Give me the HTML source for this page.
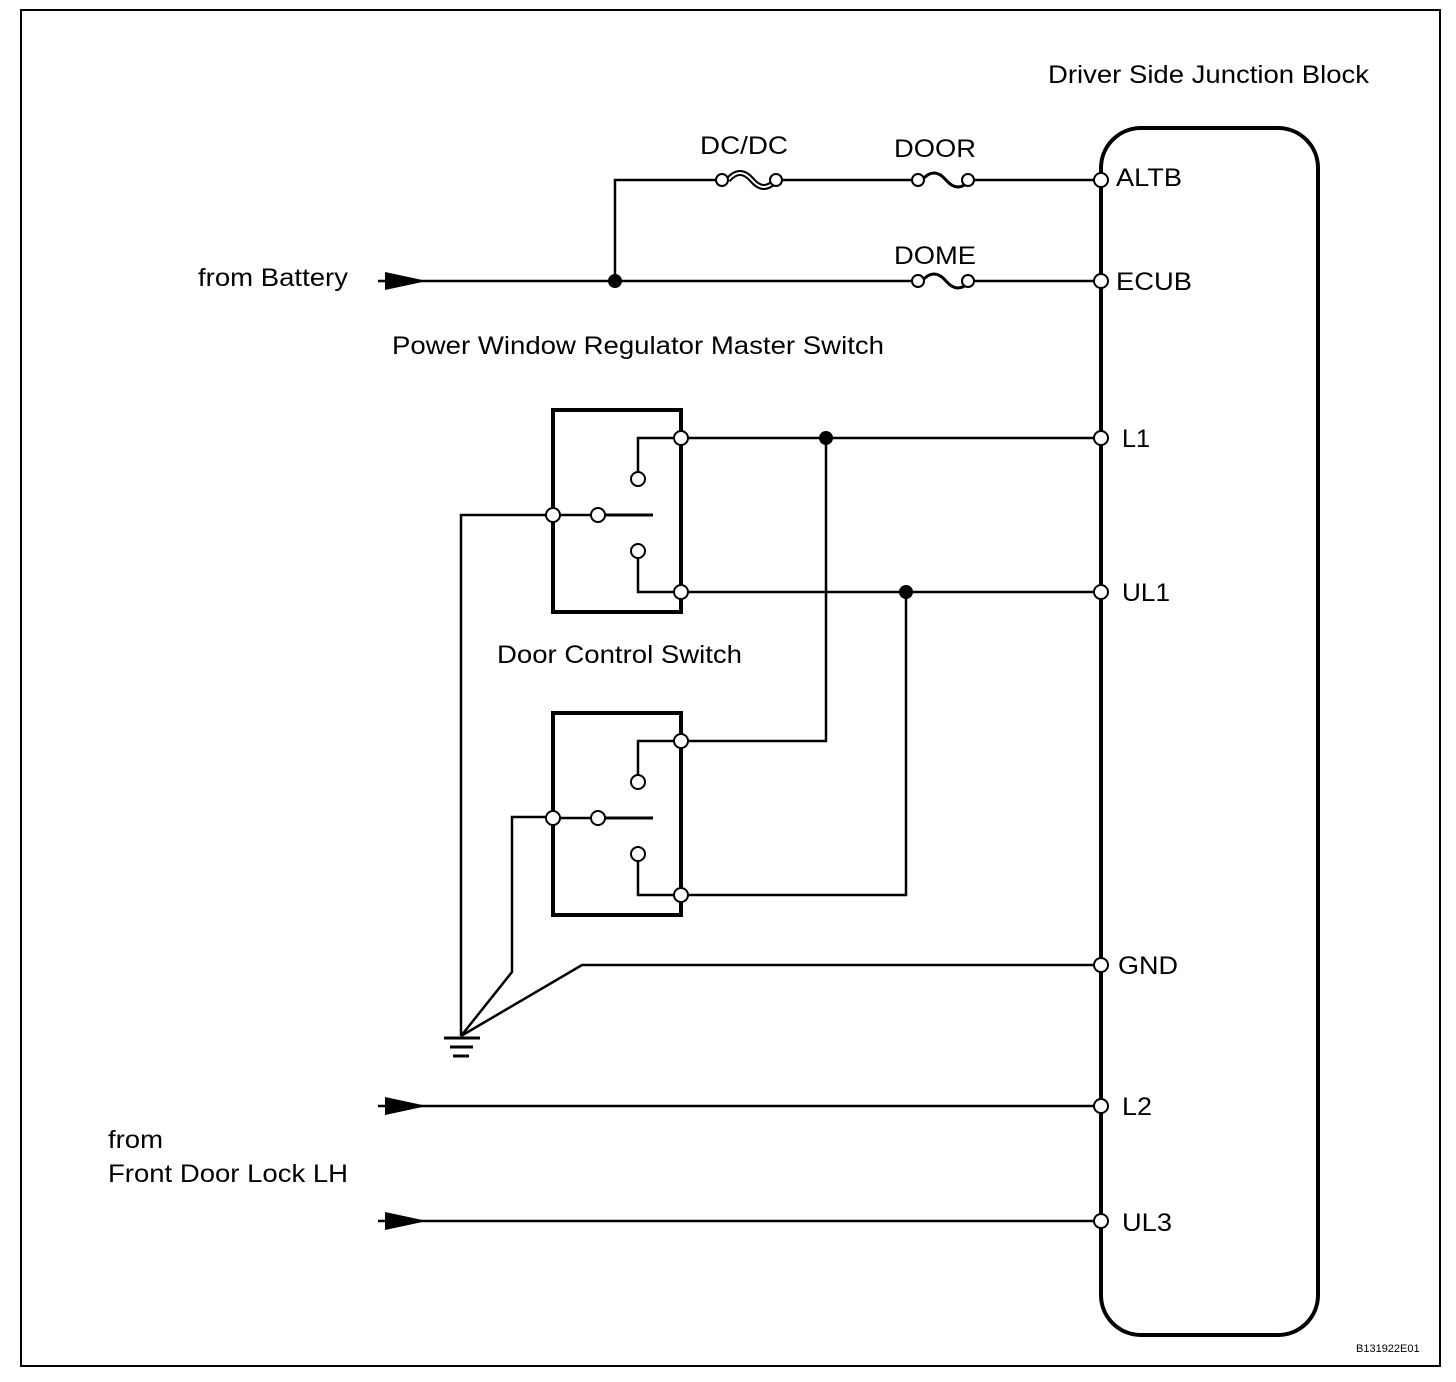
<!DOCTYPE html>
<html><head><style>body{margin:0;background:#fff}svg{display:block}text{font-family:"Liberation Sans",sans-serif;font-size:25px;fill:#000}</style></head><body>
<svg width="1456" height="1382" viewBox="0 0 1456 1382" xmlns="http://www.w3.org/2000/svg">
<rect x="21" y="10" width="1419" height="1356" fill="none" stroke="#000" stroke-width="2"/>
<rect x="1101" y="128" width="217" height="1207" rx="40" fill="none" stroke="#000" stroke-width="4"/>
<g stroke="#000" stroke-width="2.5" fill="none">
<polyline points="615,281 615,180 722,180"/>
<line x1="776" y1="180" x2="916" y2="180"/>
<line x1="970" y1="180" x2="1101" y2="180"/>
<line x1="378" y1="281" x2="916" y2="281"/>
<line x1="970" y1="281" x2="1101" y2="281"/>
<path d="M728,180 q12,-14 24,0 t24,0" stroke-width="6"/>
<path d="M728,180 q12,-14 24,0 t24,0" stroke="#fff" stroke-width="2"/>
<path d="M922,180 q12,-14 24,0 t24,0" stroke-width="3"/>
<path d="M922,281 q12,-14 24,0 t24,0" stroke-width="3"/>
<line x1="681" y1="438" x2="1101" y2="438"/>
<line x1="681" y1="592" x2="1101" y2="592"/>
<polyline points="826,438 826,741 681,741"/>
<polyline points="906,592 906,895 681,895"/>
<polyline points="1101,965 582,965 461,1036"/>
<polyline points="553,515 461,515 461,1036"/>
<polyline points="553,817 512,817 512,972 461,1036"/>
<line x1="378" y1="1106" x2="1101" y2="1106"/>
<line x1="378" y1="1221" x2="1101" y2="1221"/>
</g>
<g stroke="#000" stroke-width="3" fill="none">
<line x1="444" y1="1038" x2="480" y2="1038"/>
<line x1="450" y1="1047" x2="473" y2="1047"/>
<line x1="453" y1="1056" x2="469" y2="1056"/>
</g>
<g id="sw">
<rect x="553" y="410" width="128" height="202" fill="none" stroke="#000" stroke-width="4"/>
<g stroke="#000" stroke-width="2.5" fill="none">
<polyline points="681,438 638,438 638,479"/>
<polyline points="638,551 638,592 681,592"/>
<line x1="553" y1="515" x2="598" y2="515"/>
<line x1="598" y1="515" x2="653" y2="515" stroke-width="3"/>
</g>
<g fill="#fff" stroke="#000" stroke-width="2">
<circle cx="681" cy="438" r="7"/><circle cx="681" cy="592" r="7"/>
<circle cx="553" cy="515" r="7"/><circle cx="598" cy="515" r="7"/>
<circle cx="638" cy="479" r="7"/><circle cx="638" cy="551" r="7"/>
</g>
</g>
<use href="#sw" transform="translate(0,303)"/>
<g fill="#fff" stroke="#000" stroke-width="2">
<circle cx="1101" cy="180" r="7"/><circle cx="1101" cy="281" r="7"/><circle cx="1101" cy="438" r="7"/><circle cx="1101" cy="592" r="7"/><circle cx="1101" cy="965" r="7"/><circle cx="1101" cy="1106" r="7"/><circle cx="1101" cy="1221" r="7"/>
<circle cx="722" cy="180" r="6"/><circle cx="776" cy="180" r="6"/>
<circle cx="918" cy="180" r="6"/><circle cx="968" cy="180" r="6"/>
<circle cx="918" cy="281" r="6"/><circle cx="968" cy="281" r="6"/>
</g>
<g fill="#000"><circle cx="615" cy="281" r="7"/><circle cx="826" cy="438" r="7"/><circle cx="906" cy="592" r="7"/>
<polygon points="385,272 427,281 385,290"/><polygon points="385,1097 427,1106 385,1115"/><polygon points="385,1212 427,1221 385,1230"/></g>
<g lengthAdjust="spacingAndGlyphs">
<text x="1048" y="83" textLength="321" lengthAdjust="spacingAndGlyphs">Driver Side Junction Block</text>
<text x="700" y="154" textLength="88" lengthAdjust="spacingAndGlyphs">DC/DC</text>
<text x="894" y="157" textLength="82" lengthAdjust="spacingAndGlyphs">DOOR</text>
<text x="894" y="264" textLength="82" lengthAdjust="spacingAndGlyphs">DOME</text>
<text x="1116" y="186" textLength="66" lengthAdjust="spacingAndGlyphs">ALTB</text>
<text x="1116" y="290" textLength="76" lengthAdjust="spacingAndGlyphs">ECUB</text>
<text x="1122" y="447" textLength="28" lengthAdjust="spacingAndGlyphs">L1</text>
<text x="1122" y="601" textLength="48" lengthAdjust="spacingAndGlyphs">UL1</text>
<text x="1118" y="974" textLength="60" lengthAdjust="spacingAndGlyphs">GND</text>
<text x="1122" y="1115" textLength="30" lengthAdjust="spacingAndGlyphs">L2</text>
<text x="1122" y="1231" textLength="50" lengthAdjust="spacingAndGlyphs">UL3</text>
<text x="198" y="286" textLength="150" lengthAdjust="spacingAndGlyphs">from Battery</text>
<text x="392" y="354" textLength="492" lengthAdjust="spacingAndGlyphs">Power Window Regulator Master Switch</text>
<text x="497" y="663" textLength="245" lengthAdjust="spacingAndGlyphs">Door Control Switch</text>
<text x="108" y="1148" textLength="55" lengthAdjust="spacingAndGlyphs">from</text>
<text x="108" y="1182" textLength="240" lengthAdjust="spacingAndGlyphs">Front Door Lock LH</text>
</g>
<text x="1356" y="1352" style="font-size:11px">B131922E01</text>
</svg></body></html>
